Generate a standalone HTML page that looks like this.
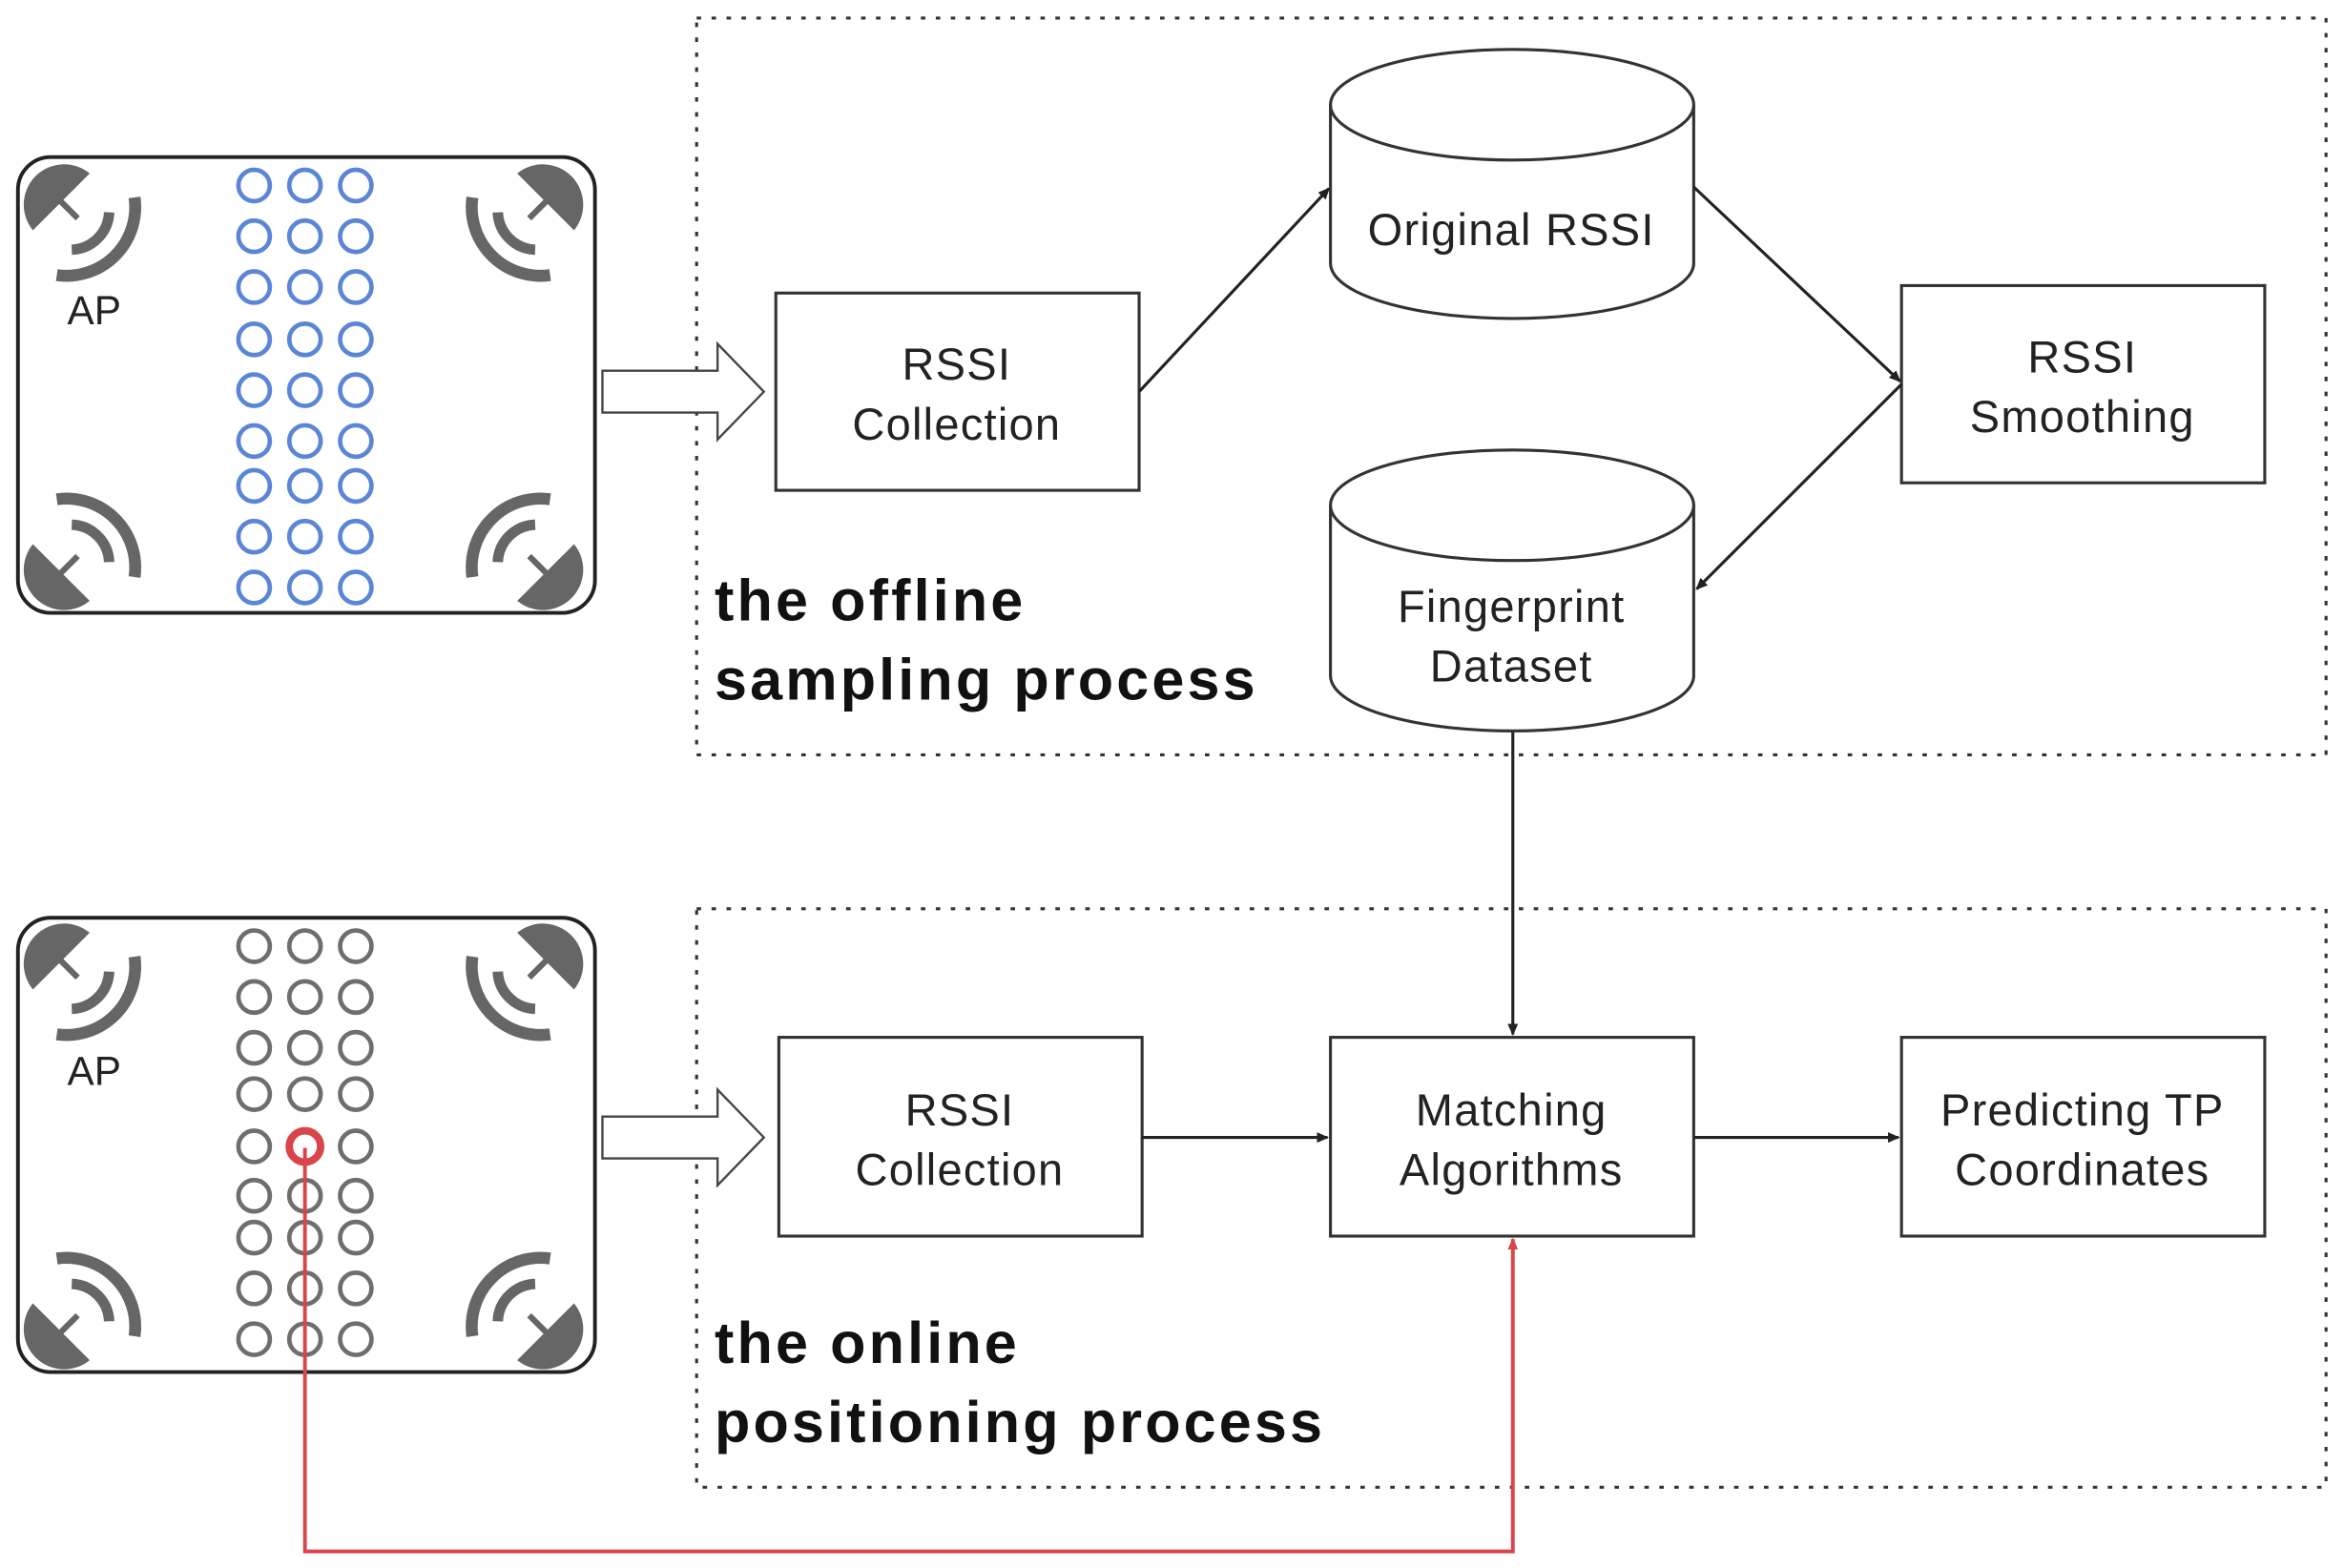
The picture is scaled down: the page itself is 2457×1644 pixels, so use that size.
<!DOCTYPE html>
<html><head><meta charset="utf-8"><style>
html,body{margin:0;padding:0;background:#fff}
svg{display:block}
text{font-family:"Liberation Sans",sans-serif;fill:#222}
</style></head><body>
<svg width="2457" height="1644" viewBox="0 0 1568 1049" xmlns="http://www.w3.org/2000/svg">
<defs>
<marker id="ah" markerWidth="8" markerHeight="8" refX="7" refY="4" orient="auto" markerUnits="userSpaceOnUse"><path d="M0,0.5 L8,4 L0,7.5 Z" fill="#222"/></marker>
<marker id="ahr" markerWidth="8" markerHeight="8" refX="7" refY="4" orient="auto" markerUnits="userSpaceOnUse"><path d="M0,0.5 L8,4 L0,7.5 Z" fill="#d9454a"/></marker>
<g id="ap">
<path d="M42,4 A27,27 0 0 0 4,42 Z" fill="#666"/>
<line x1="22" y1="22" x2="34" y2="34" stroke="#666" stroke-width="4"/>
<path d="M55,30 A26,26 0 0 1 30,55" fill="none" stroke="#666" stroke-width="7"/>
<path d="M72,20 A46,46 0 0 1 20,72" fill="none" stroke="#666" stroke-width="8"/>
</g>
</defs>
<rect x="466" y="12" width="1090" height="493" fill="none" stroke="#333" stroke-width="2" stroke-dasharray="3,7"/>
<rect x="466" y="608" width="1090" height="387" fill="none" stroke="#333" stroke-width="2" stroke-dasharray="3,7"/>
<rect x="12" y="105" width="386" height="305" rx="22" fill="#fff" stroke="#222" stroke-width="2.5"/>
<rect x="12" y="614" width="386" height="304" rx="22" fill="#fff" stroke="#222" stroke-width="2.5"/>
<use href="#ap" transform="translate(18,112)"/>
<use href="#ap" transform="translate(388,112) scale(-1,1)"/>
<use href="#ap" transform="translate(18,406) scale(1,-1)"/>
<use href="#ap" transform="translate(388,406) scale(-1,-1)"/>
<use href="#ap" transform="translate(18,620)"/>
<use href="#ap" transform="translate(388,620) scale(-1,1)"/>
<use href="#ap" transform="translate(18,914) scale(1,-1)"/>
<use href="#ap" transform="translate(388,914) scale(-1,-1)"/>
<text x="63" y="217" font-size="27" text-anchor="middle">AP</text>
<text x="63" y="726" font-size="27" text-anchor="middle">AP</text>
<g fill="none" stroke="#5b86d8" stroke-width="3">
<circle cx="170" cy="124" r="10.5"/><circle cx="204" cy="124" r="10.5"/><circle cx="238" cy="124" r="10.5"/>
<circle cx="170" cy="158" r="10.5"/><circle cx="204" cy="158" r="10.5"/><circle cx="238" cy="158" r="10.5"/>
<circle cx="170" cy="192" r="10.5"/><circle cx="204" cy="192" r="10.5"/><circle cx="238" cy="192" r="10.5"/>
<circle cx="170" cy="227" r="10.5"/><circle cx="204" cy="227" r="10.5"/><circle cx="238" cy="227" r="10.5"/>
<circle cx="170" cy="261" r="10.5"/><circle cx="204" cy="261" r="10.5"/><circle cx="238" cy="261" r="10.5"/>
<circle cx="170" cy="295" r="10.5"/><circle cx="204" cy="295" r="10.5"/><circle cx="238" cy="295" r="10.5"/>
<circle cx="170" cy="325" r="10.5"/><circle cx="204" cy="325" r="10.5"/><circle cx="238" cy="325" r="10.5"/>
<circle cx="170" cy="359" r="10.5"/><circle cx="204" cy="359" r="10.5"/><circle cx="238" cy="359" r="10.5"/>
<circle cx="170" cy="393" r="10.5"/><circle cx="204" cy="393" r="10.5"/><circle cx="238" cy="393" r="10.5"/>
</g>
<g fill="none" stroke="#6e6e6e" stroke-width="3">
<circle cx="170" cy="633" r="10.5"/><circle cx="204" cy="633" r="10.5"/><circle cx="238" cy="633" r="10.5"/>
<circle cx="170" cy="667" r="10.5"/><circle cx="204" cy="667" r="10.5"/><circle cx="238" cy="667" r="10.5"/>
<circle cx="170" cy="701" r="10.5"/><circle cx="204" cy="701" r="10.5"/><circle cx="238" cy="701" r="10.5"/>
<circle cx="170" cy="732" r="10.5"/><circle cx="204" cy="732" r="10.5"/><circle cx="238" cy="732" r="10.5"/>
<circle cx="170" cy="767" r="10.5"/><circle cx="238" cy="767" r="10.5"/>
<circle cx="170" cy="800" r="10.5"/><circle cx="204" cy="800" r="10.5"/><circle cx="238" cy="800" r="10.5"/>
<circle cx="170" cy="828" r="10.5"/><circle cx="204" cy="828" r="10.5"/><circle cx="238" cy="828" r="10.5"/>
<circle cx="170" cy="862" r="10.5"/><circle cx="204" cy="862" r="10.5"/><circle cx="238" cy="862" r="10.5"/>
<circle cx="170" cy="896" r="10.5"/><circle cx="204" cy="896" r="10.5"/><circle cx="238" cy="896" r="10.5"/>
</g>
<circle cx="204" cy="767" r="10.5" fill="none" stroke="#d9454a" stroke-width="5"/>
<path d="M204,768 L204,1038 L1012,1038 L1012,829" fill="none" stroke="#d9454a" stroke-width="2.5" marker-end="url(#ahr)"/>
<path d="M403,248 L480,248 L480,230 L511,262 L480,294 L480,276 L403,276 Z" fill="#fff" stroke="#444" stroke-width="1.5"/>
<path d="M403,747 L480,747 L480,729 L511,761 L480,793 L480,775 L403,775 Z" fill="#fff" stroke="#444" stroke-width="1.5"/>
<g fill="#fff" stroke="#333" stroke-width="2">
<rect x="519" y="196" width="243" height="132"/>
<rect x="1272" y="191" width="243" height="132"/>
<rect x="521" y="694" width="243" height="133"/>
<rect x="890" y="694" width="243" height="133"/>
<rect x="1272" y="694" width="243" height="133"/>
</g>
<g fill="#fff" stroke="#333" stroke-width="2">
<path d="M890,70 L890,176 A121.5,37 0 0 0 1133,176 L1133,70"/>
<ellipse cx="1011.5" cy="70" rx="121.5" ry="37"/>
<path d="M890,338 L890,452 A121.5,37 0 0 0 1133,452 L1133,338"/>
<ellipse cx="1011.5" cy="338" rx="121.5" ry="37"/>
</g>
<g stroke="#222" stroke-width="2" fill="none">
<line x1="762" y1="262" x2="889" y2="126" marker-end="url(#ah)"/>
<line x1="1133" y1="125" x2="1271" y2="255" marker-end="url(#ah)"/>
<line x1="1272" y1="257" x2="1135" y2="394" marker-end="url(#ah)"/>
<line x1="1012" y1="490" x2="1012" y2="692" marker-end="url(#ah)"/>
<line x1="764" y1="761" x2="888" y2="761" marker-end="url(#ah)"/>
<line x1="1133" y1="761" x2="1270" y2="761" marker-end="url(#ah)"/>
</g>
<g font-size="30" text-anchor="middle" letter-spacing="0.8">
<text x="640" y="254">RSSI</text><text x="640" y="294">Collection</text>
<text x="1011" y="164">Original RSSI</text>
<text x="1393" y="249">RSSI</text><text x="1393" y="289">Smoothing</text>
<text x="1011" y="416">Fingerprint</text><text x="1011" y="456">Dataset</text>
<text x="642" y="753">RSSI</text><text x="642" y="793">Collection</text>
<text x="1011" y="753">Matching</text><text x="1011" y="793">Algorithms</text>
<text x="1393" y="753">Predicting TP</text><text x="1393" y="793">Coordinates</text>
</g>
<g font-size="39" font-weight="bold" letter-spacing="2">
<text x="478" y="415" style="fill:#111">the offline</text>
<text x="478" y="468" style="fill:#111">sampling process</text>
<text x="478" y="912" style="fill:#111">the online</text>
<text x="478" y="965" style="fill:#111">positioning process</text>
</g>
</svg>
</body></html>
